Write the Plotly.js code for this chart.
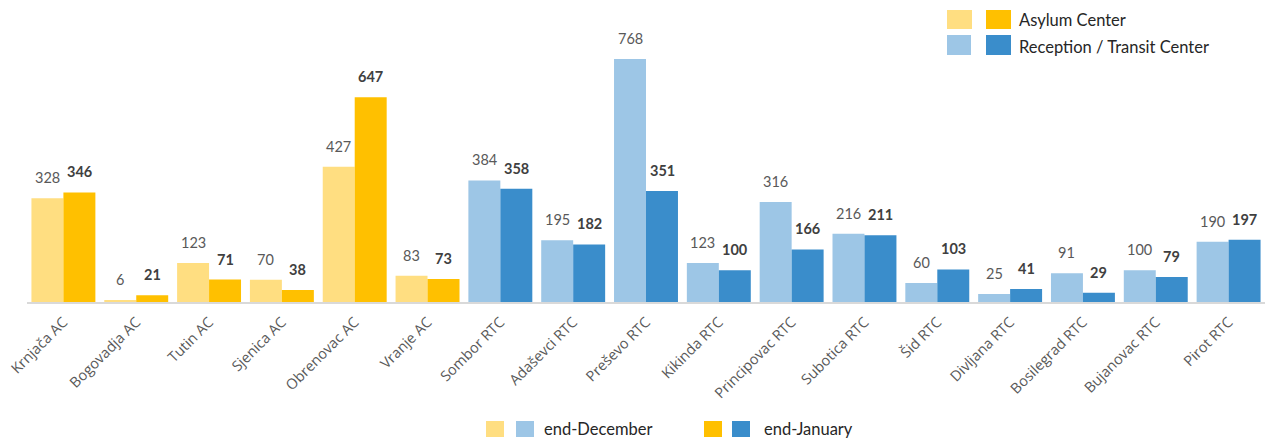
<!DOCTYPE html>
<html><head><meta charset="utf-8">
<script src="https://cdn.plot.ly/plotly-3.0.1.min.js"></script>
<style>html,body{margin:0;padding:0;background:#fff}#chart{width:1265px;height:441px}</style>
</head><body><div id="chart"></div>
<script>
const categories = ["Krnjača AC","Bogovadja AC","Tutin AC","Sjenica AC","Obrenovac AC","Vranje AC","Sombor RTC","Adaševci RTC","Preševo RTC","Kikinda RTC","Principovac RTC","Subotica RTC","Šid RTC","Divljana RTC","Bosilegrad RTC","Bujanovac RTC","Pirot RTC"];
const centerType = ["AC","AC","AC","AC","AC","AC","RTC","RTC","RTC","RTC","RTC","RTC","RTC","RTC","RTC","RTC","RTC"];
const endDecember = [328,6,123,70,427,83,384,195,768,123,316,216,60,25,91,100,190];
const endJanuary = [346,21,71,38,647,73,358,182,351,100,166,211,103,41,29,79,197];

const COL = {AC:{dec:"#FFDE81",jan:"#FFC000"}, RTC:{dec:"#9DC6E6",jan:"#3A8DCB"}};

const W=1265,H=441,ML=27,MR=0,MT=20,MB=139;
const pw=W-ML-MR, ph=H-MT-MB;
const px=x=>(x-ML)/pw, py=y=>(H-MB-y)/ph;

const traces=[
 {type:"bar",x:categories,y:endDecember,name:"end-December",marker:{color:centerType.map(t=>COL[t].dec)},hoverinfo:"x+y"},
 {type:"bar",x:categories,y:endJanuary,name:"end-January",marker:{color:centerType.map(t=>COL[t].jan)},hoverinfo:"x+y"}
];

const annotations=[];
categories.forEach((c,i)=>{
  annotations.push({x:c,y:endDecember[i],xref:"x",yref:"y",text:String(endDecember[i]),showarrow:false,xshift:-16,yshift:10,yanchor:"bottom",font:{family:"Lato",size:14.5,color:"#595959"}});
  annotations.push({x:c,y:endJanuary[i],xref:"x",yref:"y",text:"<b>"+endJanuary[i]+"</b>",showarrow:false,xshift:16,yshift:10,yanchor:"bottom",font:{family:"Lato",size:14.5,color:"#404040"}});
});

const shapes=[];
function sq(x0,y0,x1,y1,color){shapes.push({type:"rect",xref:"paper",yref:"paper",x0:px(x0),x1:px(x1),y0:py(y1),y1:py(y0),fillcolor:color,line:{width:0},layer:"above"});}
function lbl(x,y,text){annotations.push({xref:"paper",yref:"paper",x:px(x),y:py(y),text:text,showarrow:false,xanchor:"left",yanchor:"middle",font:{family:"Lato",size:16.5,color:"#262626"}});}
// top legend
sq(947,10,972,29,COL.AC.dec); sq(986,10,1011,29,COL.AC.jan); lbl(1017,20,"Asylum Center");
sq(947,35,971,55,COL.RTC.dec); sq(986,35,1011,55,COL.RTC.jan); lbl(1017,47,"Reception / Transit Center");
// bottom legend
sq(486,421,504,437,COL.AC.dec); sq(516,421,534,437,COL.RTC.dec); lbl(542,429,"end-December");
sq(704,421,722,437,COL.AC.jan); sq(732,421,750,437,COL.RTC.jan); lbl(762,429,"end-January");

const layout={
  width:W,height:H,margin:{l:ML,r:MR,t:MT,b:MB},
  paper_bgcolor:"#fff",plot_bgcolor:"#fff",
  barmode:"group",bargap:0.122,bargroupgap:0,showlegend:false,
  font:{family:"Lato",color:"#595959"},
  xaxis:{type:"category",tickangle:-45,tickfont:{family:"Open Sans",size:14.5,color:"#595959"},ticklabelstandoff:4,showline:true,linecolor:"#D9D9D9",linewidth:2,ticks:"",showgrid:false,zeroline:false,fixedrange:true},
  yaxis:{range:[0,891],visible:false,showgrid:false,zeroline:false,fixedrange:true},
  annotations:annotations,shapes:shapes
};
Plotly.newPlot("chart",traces,layout,{displayModeBar:false,staticPlot:true});
</script></body></html>
